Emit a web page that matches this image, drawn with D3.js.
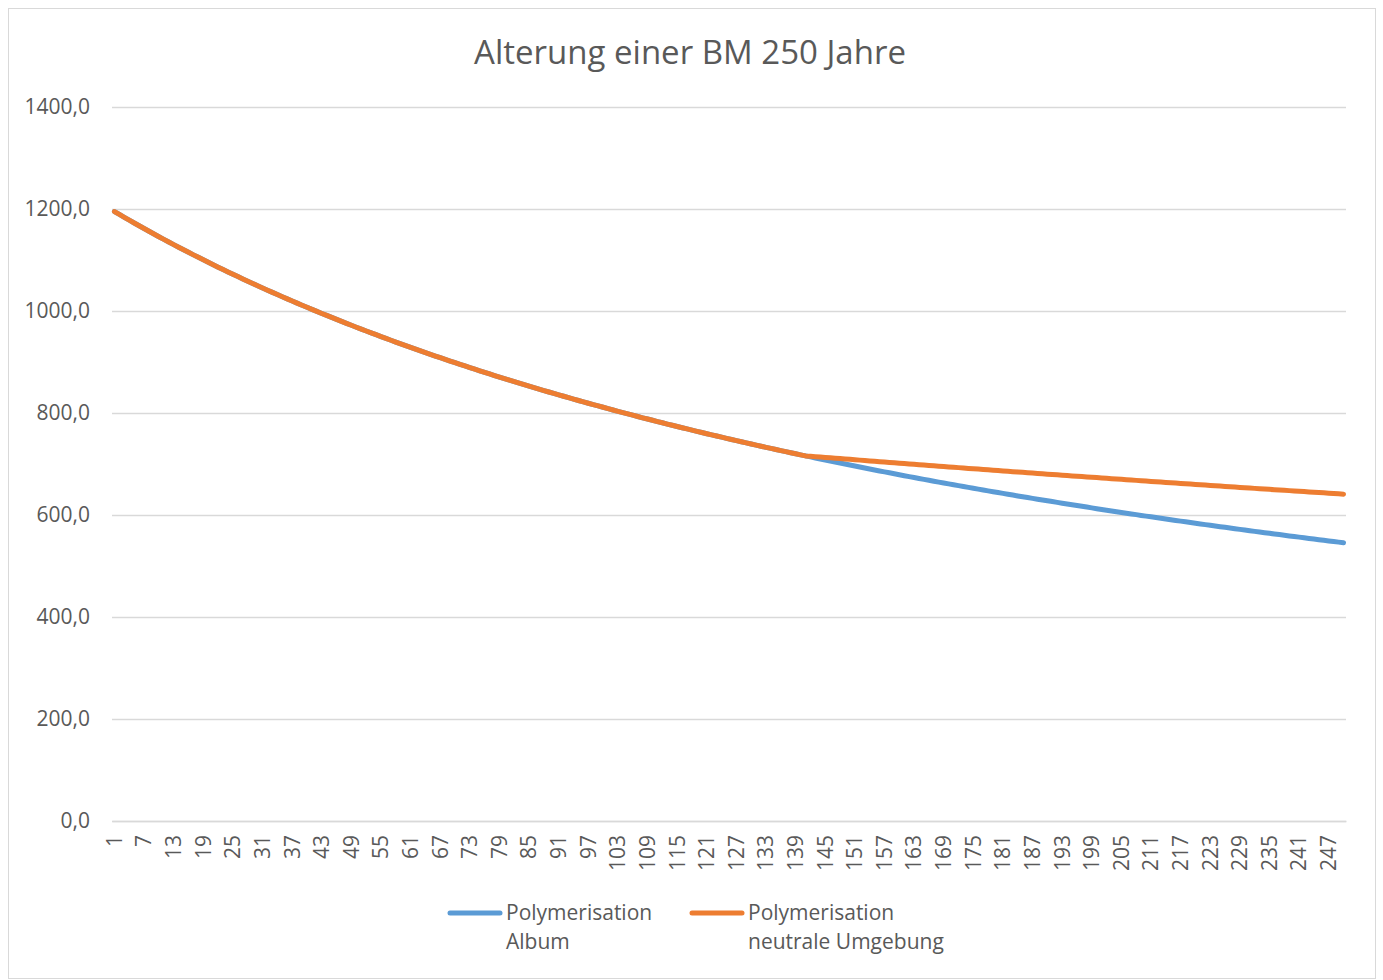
<!DOCTYPE html>
<html>
<head>
<meta charset="utf-8">
<script src="https://cdn.jsdelivr.net/npm/d3@7"></script>
<style>
  html, body { margin: 0; padding: 0; background: #fff; }
  svg { display: block; font-family: "Open Sans", "Noto Sans", sans-serif; }
</style>
</head>
<body>
<svg id="chart" width="1383" height="980"></svg>
<script>
// Degree of polymerisation over 250 years
const title = "Alterung einer BM 250 Jahre";
const years = d3.range(1, 251);
const xTickLabels = d3.range(1, 251, 6);
const yTicks = [0, 200, 400, 600, 800, 1000, 1200, 1400];
const seriesNames = [["Polymerisation", "Album"], ["Polymerisation", "neutrale Umgebung"]];
const seriesColors = ["#5B9BD5", "#ED7D31"];

const album = [
1195.0,1189.3,1183.7,1178.1,1172.6,1167.1,1161.7,1156.3,1151.0,1145.7,
1140.5,1135.3,1130.2,1125.1,1120.1,1115.1,1110.1,1105.2,1100.4,1095.5,
1090.8,1086.0,1081.3,1076.7,1072.0,1067.5,1062.9,1058.4,1054.0,1049.5,
1045.2,1040.8,1036.5,1032.2,1028.0,1023.8,1019.6,1015.4,1011.3,1007.3,
1003.2,999.2,995.2,991.3,987.4,983.5,979.6,975.8,972.0,968.2,
964.5,960.8,957.1,953.5,949.9,946.3,942.7,939.1,935.6,932.1,
928.7,925.2,921.8,918.4,915.1,911.7,908.4,905.1,901.9,898.6,
895.4,892.2,889.0,885.9,882.8,879.7,876.6,873.5,870.5,867.5,
864.5,861.5,858.5,855.6,852.7,849.8,846.9,844.0,841.2,838.4,
835.6,832.8,830.0,827.3,824.5,821.8,819.1,816.5,813.8,811.2,
808.5,805.9,803.3,800.8,798.2,795.7,793.2,790.6,788.2,785.7,
783.2,780.8,778.3,775.9,773.5,771.1,768.8,766.4,764.1,761.7,
759.4,757.1,754.8,752.6,750.3,748.1,745.8,743.6,741.4,739.2,
737.0,734.9,732.7,730.6,728.4,726.3,724.2,722.1,720.1,718.0,
715.9,713.9,711.9,709.8,707.8,705.8,703.8,701.9,699.9,697.9,
696.0,694.1,692.1,690.2,688.3,686.4,684.6,682.7,680.8,679.0,
677.1,675.3,673.5,671.7,669.9,668.1,666.3,664.5,662.8,661.0,
659.3,657.6,655.8,654.1,652.4,650.7,649.0,647.3,645.7,644.0,
642.4,640.7,639.1,637.4,635.8,634.2,632.6,631.0,629.4,627.8,
626.3,624.7,623.1,621.6,620.1,618.5,617.0,615.5,614.0,612.4,
610.9,609.5,608.0,606.5,605.0,603.6,602.1,600.7,599.2,597.8,
596.4,595.0,593.5,592.1,590.7,589.3,588.0,586.6,585.2,583.8,
582.5,581.1,579.8,578.4,577.1,575.8,574.5,573.1,571.8,570.5,
569.2,567.9,566.6,565.4,564.1,562.8,561.6,560.3,559.0,557.8,
556.6,555.3,554.1,552.9,551.6,550.4,549.2,548.0,546.8,545.6
];

const neutral = [
1195.0,1189.3,1183.7,1178.1,1172.6,1167.1,1161.7,1156.3,1151.0,1145.7,
1140.5,1135.3,1130.2,1125.1,1120.1,1115.1,1110.1,1105.2,1100.4,1095.5,
1090.8,1086.0,1081.3,1076.7,1072.0,1067.5,1062.9,1058.4,1054.0,1049.5,
1045.2,1040.8,1036.5,1032.2,1028.0,1023.8,1019.6,1015.4,1011.3,1007.3,
1003.2,999.2,995.2,991.3,987.4,983.5,979.6,975.8,972.0,968.2,
964.5,960.8,957.1,953.5,949.9,946.3,942.7,939.1,935.6,932.1,
928.7,925.2,921.8,918.4,915.1,911.7,908.4,905.1,901.9,898.6,
895.4,892.2,889.0,885.9,882.8,879.7,876.6,873.5,870.5,867.5,
864.5,861.5,858.5,855.6,852.7,849.8,846.9,844.0,841.2,838.4,
835.6,832.8,830.0,827.3,824.5,821.8,819.1,816.5,813.8,811.2,
808.5,805.9,803.3,800.8,798.2,795.7,793.2,790.6,788.2,785.7,
783.2,780.8,778.3,775.9,773.5,771.1,768.8,766.4,764.1,761.7,
759.4,757.1,754.8,752.6,750.3,748.1,745.8,743.6,741.4,739.2,
737.0,734.9,732.7,730.6,728.4,726.3,724.2,722.1,720.1,718.0,
715.9,715.2,714.4,713.6,712.9,712.1,711.3,710.6,709.8,709.1,
708.3,707.6,706.8,706.1,705.3,704.6,703.8,703.1,702.4,701.6,
700.9,700.1,699.4,698.7,697.9,697.2,696.5,695.8,695.0,694.3,
693.6,692.9,692.1,691.4,690.7,690.0,689.3,688.6,687.9,687.2,
686.4,685.7,685.0,684.3,683.6,682.9,682.2,681.5,680.8,680.1,
679.4,678.8,678.1,677.4,676.7,676.0,675.3,674.6,674.0,673.3,
672.6,671.9,671.2,670.6,669.9,669.2,668.5,667.9,667.2,666.5,
665.9,665.2,664.5,663.9,663.2,662.6,661.9,661.2,660.6,659.9,
659.3,658.6,658.0,657.3,656.7,656.0,655.4,654.8,654.1,653.5,
652.8,652.2,651.6,650.9,650.3,649.7,649.0,648.4,647.8,647.1,
646.5,645.9,645.2,644.6,644.0,643.4,642.8,642.1,641.5,640.9
];

const series = [album, neutral];

const plot = { left: 112, right: 1346, top: 107, bottom: 821 };
const textColor = "#595959";
const gridColor = "#d9d9d9";
const labelSize = 21;

const svg = d3.select("#chart");

// outer chart frame
svg.append("rect")
  .attr("x", 8.5).attr("y", 8.5)
  .attr("width", 1367).attr("height", 970)
  .attr("fill", "#fff").attr("stroke", gridColor).attr("stroke-width", 1);

// title
svg.append("text")
  .attr("x", 690).attr("y", 64)
  .attr("text-anchor", "middle")
  .attr("fill", textColor)
  .attr("font-size", 33)
  .text(title);

const x = d3.scaleBand().domain(years).range([plot.left, plot.right]).padding(0);
const y = d3.scaleLinear().domain([0, 1400]).range([plot.bottom, plot.top]);
const cx = d => x(d) + x.bandwidth() / 2;

const fmt = v => d3.format(".1f")(v).replace(".", ",");

// horizontal gridlines and value labels
const yAxis = d3.axisLeft(y).tickValues(yTicks).tickFormat(fmt).tickSize(-(plot.right - plot.left)).tickPadding(22);
const gy = svg.append("g").attr("transform", `translate(${plot.left},0)`).call(yAxis);
gy.select(".domain").remove();
gy.selectAll(".tick line").attr("stroke", gridColor).attr("stroke-width", 1.3);
gy.selectAll(".tick text").attr("fill", textColor).attr("font-size", labelSize).attr("font-family", "Open Sans, sans-serif");

// category axis
const xAxis = d3.axisBottom(x).tickValues(xTickLabels).tickSize(0).tickPadding(0);
const gx = svg.append("g").attr("transform", `translate(0,${plot.bottom})`).call(xAxis);
gx.select(".domain").attr("stroke", gridColor).attr("stroke-width", 1.3);
gx.selectAll(".tick text")
  .attr("fill", textColor).attr("font-size", labelSize).attr("font-family", "Open Sans, sans-serif")
  .attr("transform", "rotate(-90)")
  .attr("text-anchor", "end")
  .attr("x", -14).attr("y", 0).attr("dy", "0.35em");

// series lines
const line = d3.line().x((d, i) => cx(years[i])).y(d => y(d));
series.forEach((s, k) => {
  svg.append("path")
    .datum(s)
    .attr("fill", "none")
    .attr("stroke", seriesColors[k])
    .attr("stroke-width", 5)
    .attr("stroke-linecap", "round")
    .attr("stroke-linejoin", "round")
    .attr("d", line);
});

// legend
const legendX = [448, 690];
seriesNames.forEach((names, k) => {
  const g = svg.append("g").attr("transform", `translate(${legendX[k]},913)`);
  g.append("line").attr("x1", 2).attr("x2", 52).attr("y1", 0).attr("y2", 0)
    .attr("stroke", seriesColors[k]).attr("stroke-width", 5).attr("stroke-linecap", "round");
  const t = g.append("text").attr("x", 58).attr("y", 7).attr("fill", textColor).attr("font-size", labelSize);
  names.forEach((n, j) => t.append("tspan").attr("x", 58).attr("dy", j === 0 ? 0 : 29).text(n));
});
</script>
</body>
</html>
